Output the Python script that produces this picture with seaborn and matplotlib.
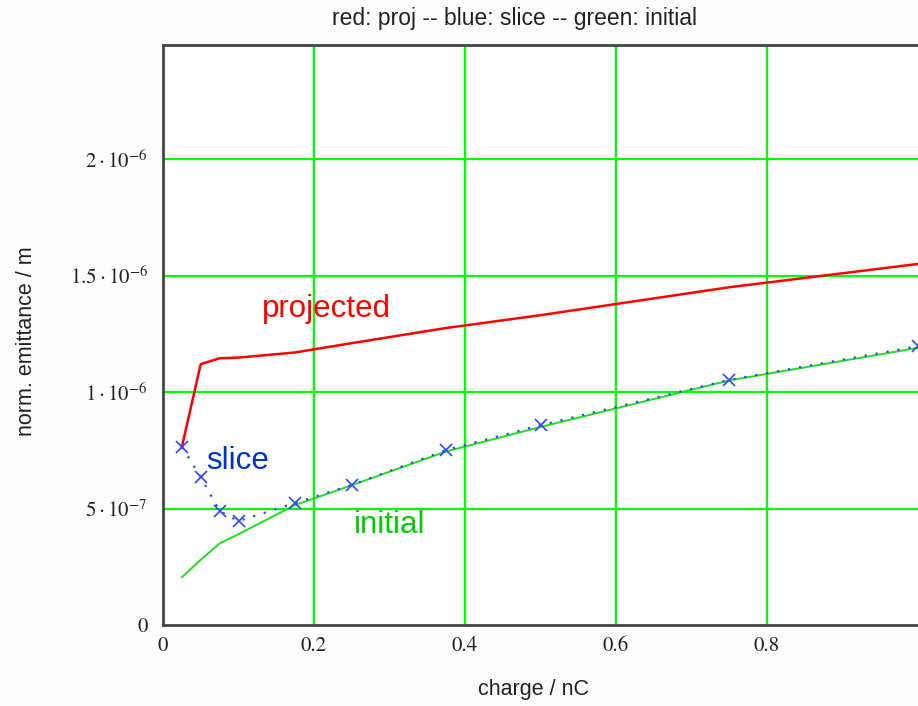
import matplotlib
matplotlib.use("Agg")
import matplotlib.pyplot as plt
import seaborn as sns
import pandas as pd

# bunch charge / nC
charge = [0.025, 0.05, 0.075, 0.1, 0.175, 0.25, 0.375, 0.5, 0.75, 1.0]
# normalised emittance / m
projected = [0.764e-6, 1.12e-6, 1.145e-6, 1.148e-6, 1.17e-6, 1.21e-6, 1.275e-6, 1.33e-6, 1.45e-6, 1.55e-6]
slice_em = [0.764e-6, 0.635e-6, 0.489e-6, 0.446e-6, 0.524e-6, 0.601e-6, 0.751e-6, 0.858e-6, 1.052e-6, 1.197e-6]
initial = [0.205e-6, 0.28e-6, 0.35e-6, 0.39e-6, 0.515e-6, 0.60e-6, 0.745e-6, 0.85e-6, 1.05e-6, 1.19e-6]

x_ticks = [0, 0.2, 0.4, 0.6, 0.8]
x_tick_labels = ["0", "0.2", "0.4", "0.6", "0.8"]
y_ticks = [0, 5e-7, 1e-6, 1.5e-6, 2e-6]
y_tick_labels = ["0", r"$5\cdot10^{-7}$", r"$1\cdot10^{-6}$", r"$1.5\cdot10^{-6}$", r"$2\cdot10^{-6}$"]

df = pd.DataFrame({"charge": charge, "projected": projected,
                   "slice": slice_em, "initial": initial})

sns.set_style("white")
plt.rcParams["font.family"] = ["Liberation Sans", "DejaVu Sans"]
plt.rcParams["mathtext.fontset"] = "stix"

fig = plt.figure(figsize=(9.18, 7.06), dpi=100, facecolor="#fdfdfd")
ax = fig.add_axes([163 / 918, 81 / 706, 755 / 918, 580 / 706])
ax.set_facecolor("white")

# grid
for xv in x_ticks[1:]:
    ax.axvline(xv, color="#00ff00", lw=1.6, zorder=1)
for yv in y_ticks[1:]:
    ax.axhline(yv, color="#00ff00", lw=1.6, zorder=1)

sns.lineplot(data=df, x="charge", y="initial", ax=ax, color="#22dd22",
             lw=1.4, zorder=3)
sns.lineplot(data=df, x="charge", y="projected", ax=ax, color="#ff0000",
             lw=1.8, zorder=4)
sns.lineplot(data=df, x="charge", y="slice", ax=ax, color="#3344ff",
             lw=1.6, linestyle=(0, (1, 4)), marker="x", markersize=8,
             markeredgewidth=1.2, markeredgecolor="#3344ff",
             markerfacecolor="#3344ff", zorder=5)

ax.set_xlim(0, 1.0)
ax.set_ylim(0, 2.49e-6)
ax.set_xticks(x_ticks)
ax.set_xticklabels(x_tick_labels, fontfamily="STIXGeneral", fontsize=15)
ax.set_yticks(y_ticks)
ax.set_yticklabels(y_tick_labels, fontfamily="STIXGeneral", fontsize=15)
ax.tick_params(axis="both", length=0, colors="#222222")
ax.tick_params(axis="x", pad=8)
ax.tick_params(axis="y", pad=11)

for side in ["left", "bottom", "top"]:
    ax.spines[side].set_color("#444444")
    ax.spines[side].set_linewidth(2)
ax.spines["right"].set_visible(False)

ax.set_xlabel("")
ax.set_ylabel("")
fig.text(534 / 918, 1 - 690 / 706, "charge / nC", ha="center", va="center",
         fontsize=15.5, color="#222222")
fig.text(27 / 918, 1 - 341 / 706, "norm. emittance / m", ha="center",
         va="center", rotation=90, fontsize=15.5, color="#222222")
fig.text(515 / 918, 1 - 19 / 706, "red: proj -- blue: slice -- green: initial",
         ha="center", va="center", fontsize=16.5, color="#222222")

ax.text(0.216, 1.355e-6, "projected", color="#ff0000", fontsize=22.5,
        ha="center", va="center")
ax.text(0.099, 0.705e-6, "slice", color="#0033cc", fontsize=22.5,
        ha="center", va="center")
ax.text(0.300, 0.43e-6, "initial", color="#00cc00", fontsize=22.5,
        ha="center", va="center")

fig.savefig("out.png", dpi=100, facecolor=fig.get_facecolor())
